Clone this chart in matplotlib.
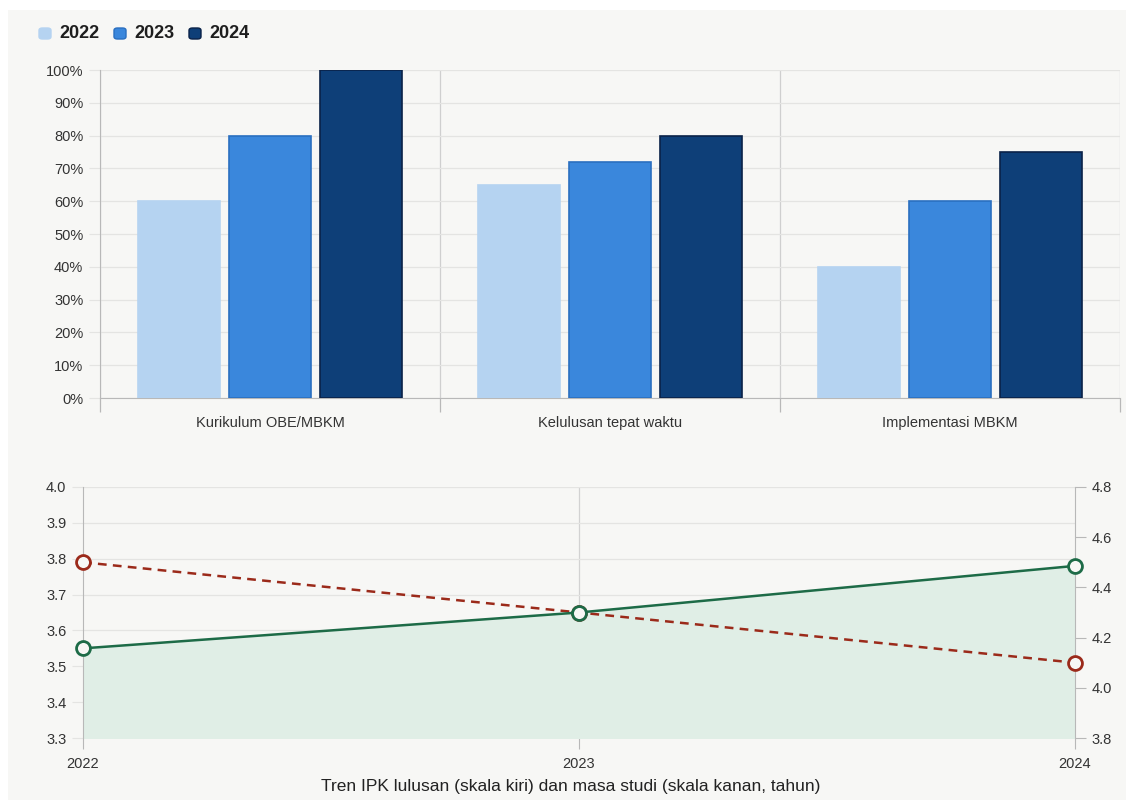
import matplotlib
matplotlib.use("Agg")
import matplotlib.pyplot as plt
import numpy as np
from matplotlib.patches import FancyBboxPatch
from matplotlib.ticker import FixedLocator, FuncFormatter

plt.rcParams['font.family'] = ['Liberation Sans', 'DejaVu Sans']

categories = ["Kurikulum OBE/MBKM", "Kelulusan tepat waktu", "Implementasi MBKM"]
years = ["2022", "2023", "2024"]
bar_values = {
    "2022": [60, 65, 40],
    "2023": [80, 72, 60],
    "2024": [100, 80, 75],
}
bar_colors = {"2022": "#b5d3f1", "2023": "#3a87dc", "2024": "#0e3f78"}
bar_edges = {"2022": "#b5d3f1", "2023": "#2a6fc0", "2024": "#0a2248"}

trend_years = ["2022", "2023", "2024"]
ipk = [3.55, 3.65, 3.78]
masa_studi = [4.5, 4.3, 4.1]
trend_title = "Tren IPK lulusan (skala kiri) dan masa studi (skala kanan, tahun)"

BG = "#f7f7f5"
GRID = "#e4e4e2"
AXIS = "#b8b8b8"
TXT = "#333333"
TICK_FS = 10.5

fig = plt.figure(figsize=(11.26, 8.0), dpi=100, facecolor="white")
# panel background
fig.patches.append(plt.Rectangle((8 / 1126, 0), 1, 1 - 10 / 800, transform=fig.transFigure,
                                 facecolor=BG, edgecolor="none", zorder=-10))

# ---------- grouped bars ----------
ax = fig.add_axes([100 / 1126, 1 - 398 / 800, 1020 / 1126, 328 / 800])
ax.set_facecolor(BG)
x = np.arange(len(categories))
bw = 0.241
step = 0.268
for i, y in enumerate(years):
    ax.bar(x + (i - 1) * step, bar_values[y], width=bw, color=bar_colors[y],
           edgecolor=bar_edges[y], linewidth=1.2, zorder=3)
ax.set_xlim(-0.5, len(categories) - 0.5)
ax.set_ylim(0, 100)
ax.set_yticks(np.arange(0, 101, 10))
ax.yaxis.set_major_formatter(FuncFormatter(lambda v, p: f"{int(v)}%"))
ax.set_xticks(x)
ax.set_xticklabels(categories)
ax.xaxis.set_minor_locator(FixedLocator(np.arange(-0.5, len(categories), 1.0)))
ax.tick_params(axis="x", which="major", length=0, pad=13, labelsize=TICK_FS, labelcolor=TXT)
ax.tick_params(axis="x", which="minor", length=10, color=AXIS, width=0.9)
ax.tick_params(axis="y", length=8, color=GRID, labelsize=TICK_FS, labelcolor=TXT, pad=4)
ax.grid(axis="y", color=GRID, linewidth=0.9, zorder=0)
for b in np.arange(-0.5, len(categories), 1.0):
    ax.axvline(b, color="#cfcfcf", linewidth=0.9, zorder=1)
for s in ["top", "right"]:
    ax.spines[s].set_visible(False)
ax.spines["left"].set_color(AXIS)
ax.spines["bottom"].set_color(AXIS)

# legend with rounded swatches
lx = 39
for i, y in enumerate(years):
    sx = lx + i * 75
    fig.patches.append(FancyBboxPatch((sx / 1126, 1 - 39 / 800), 12 / 1126, 11 / 800,
                                      boxstyle="round,pad=0,rounding_size=0.003",
                                      transform=fig.transFigure, facecolor=bar_colors[y],
                                      edgecolor=bar_edges[y], linewidth=1.0))
    fig.text((sx + 20) / 1126, 1 - 33.5 / 800, y, fontsize=13, color="#1e1e1e",
             va="center", ha="left", fontweight="semibold")

# ---------- trend lines with twin axes ----------
ax2 = fig.add_axes([83 / 1126, 1 - 738 / 800, 992 / 1126, 251 / 800])
ax2.set_facecolor(BG)
xt = np.arange(len(trend_years))
ax2.set_xlim(0, len(trend_years) - 1)
ax2.set_ylim(3.3, 4.0)
ax2.set_yticks(np.round(np.arange(3.3, 4.01, 0.1), 1))
ax2.yaxis.set_major_formatter(FuncFormatter(lambda v, p: f"{v:.1f}"))
ax2.grid(axis="y", color=GRID, linewidth=0.9, zorder=0)
ax2.axvline(1, color="#d2d2d2", linewidth=0.9, zorder=1)
ax2.fill_between(xt, ipk, 3.3, color="#e0eee6", zorder=2)
ax2.set_xticks(xt)
ax2.set_xticklabels(trend_years)
ax2.tick_params(axis="x", length=8, color=AXIS, labelsize=TICK_FS, labelcolor=TXT, pad=6)
ax2.tick_params(axis="y", length=8, color=GRID, labelsize=TICK_FS, labelcolor=TXT, pad=4)
for s in ["top", "right", "bottom"]:
    ax2.spines[s].set_visible(False)
ax2.spines["left"].set_color(AXIS)

ax3 = ax2.twinx()
ax3.set_ylim(3.8, 4.8)
ax3.set_yticks(np.round(np.arange(3.8, 4.81, 0.2), 1))
ax3.yaxis.set_major_formatter(FuncFormatter(lambda v, p: f"{v:.1f}"))
# masa studi on the right scale
ax3.plot(xt, masa_studi, color="#9b2a1a", linewidth=1.8, linestyle=(0, (3.5, 2.5)),
         zorder=4, marker="o", markersize=10, markerfacecolor=BG,
         markeredgewidth=2, clip_on=False)
# IPK on the left scale, drawn above the dashed series
ax3.plot(xt, ipk, color="#1d6b47", linewidth=1.8, zorder=5, marker="o",
         markersize=10, markerfacecolor=BG, markeredgewidth=2, clip_on=False,
         transform=ax2.transData)
ax3.tick_params(axis="y", length=8, color=AXIS, labelsize=TICK_FS, labelcolor=TXT, pad=4)
for s in ["top", "left", "bottom"]:
    ax3.spines[s].set_visible(False)
ax3.spines["right"].set_color(AXIS)

fig.text(571 / 1126, 1 - 787 / 800, trend_title, fontsize=12.5, color="#222222",
         ha="center", va="center")

fig.savefig("out.png", dpi=100, facecolor=fig.get_facecolor())
